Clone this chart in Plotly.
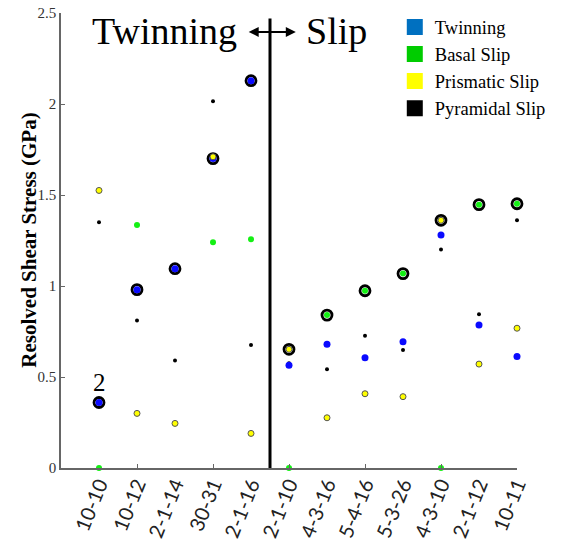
import plotly.graph_objects as go

categories = ["10-10", "10-12", "2-1-14", "30-31", "2-1-16", "2-1-10",
              "4-3-16", "5-4-16", "5-3-26", "4-3-10", "2-1-12", "10-11"]
positions = list(range(1, len(categories) + 1))

twinning = [0.36, 0.98, 1.095, 1.70, 2.128, 0.565, 0.68, 0.606, 0.694, 1.28, 0.786, 0.612]
basal = [0.0, 1.335, None, 1.24, 1.257, 0.0, 0.84, 0.974, 1.068, 0.0, 1.447, 1.452]
prismatic = [1.525, 0.30, 0.245, 1.71, 0.19, 0.652, 0.276, 0.408, 0.392, 1.361, 0.571, 0.768]
pyramidal = [1.35, 0.81, 0.59, 2.015, 0.676, 0.575, 0.542, 0.727, 0.648, 1.20, 0.845, 1.361]

# which deformation mode is circled for each orientation
ringed = ["Twinning", "Twinning", "Twinning", "Twinning", "Twinning", "Prismatic Slip",
          "Basal Slip", "Basal Slip", "Basal Slip", "Prismatic Slip", "Basal Slip", "Basal Slip"]

series = {
    "Twinning": twinning,
    "Basal Slip": basal,
    "Prismatic Slip": prismatic,
    "Pyramidal Slip": pyramidal,
}
legend_colors = {
    "Twinning": "#0070C0",
    "Basal Slip": "#00CC00",
    "Prismatic Slip": "#FFFF00",
    "Pyramidal Slip": "#000000",
}

y_ticks = [0, 0.5, 1, 1.5, 2, 2.5]
minor_x_ticks = [2, 4, 6, 8, 10, 12]

SERIF = "Liberation Serif, Times New Roman, serif"
SANS = "Lato, Liberation Sans, Arial, sans-serif"

ring_y = [series[m][i] for i, m in enumerate(ringed)]

fig = go.Figure()

# rings (under the dots)
fig.add_trace(go.Scatter(
    x=positions, y=ring_y, mode="markers", showlegend=False, cliponaxis=False,
    marker=dict(symbol="circle", size=10, color="white", line=dict(color="black", width=2.8)),
    hoverinfo="skip"))

fig.add_trace(go.Scatter(
    x=positions, y=pyramidal, mode="markers", showlegend=False, cliponaxis=False,
    marker=dict(size=4, color="black"), name="Pyramidal Slip"))
fig.add_trace(go.Scatter(
    x=positions, y=basal, mode="markers", showlegend=False, cliponaxis=False,
    marker=dict(size=6, color="#14F014"), name="Basal Slip"))
fig.add_trace(go.Scatter(
    x=positions, y=twinning, mode="markers", showlegend=False, cliponaxis=False,
    marker=dict(size=7, color="#0A0AFF"), name="Twinning"))
fig.add_trace(go.Scatter(
    x=positions, y=prismatic, mode="markers", showlegend=False, cliponaxis=False,
    marker=dict(size=6, color="#FFFF00", line=dict(color="#555555", width=1)), name="Prismatic Slip"))

# legend-only entries
for name, col in legend_colors.items():
    fig.add_trace(go.Scatter(
        x=[None], y=[None], mode="markers", name=name, showlegend=True,
        marker=dict(symbol="square", size=16, color=col)))

# invisible trace on the overlay axis carrying the category labels
fig.add_trace(go.Scatter(x=[None], y=[None], xaxis="x2", yaxis="y", showlegend=False))

# divider and arrow
fig.add_shape(type="line", x0=5.5, x1=5.5, y0=0, y1=2.47, xref="x", yref="y",
              line=dict(color="black", width=3))
fig.add_annotation(x=6.18, y=2.396, ax=4.90, ay=2.396, xref="x", yref="y",
                   axref="x", ayref="y", text="", showarrow=True,
                   arrowhead=2, arrowside="end+start", arrowwidth=2, arrowsize=1,
                   arrowcolor="black")
fig.add_annotation(x=2.72, y=2.40, xref="x", yref="y", text="Twinning", showarrow=False,
                   font=dict(family=SERIF, size=38, color="black"))
fig.add_annotation(x=7.24, y=2.40, xref="x", yref="y", text="Slip", showarrow=False,
                   font=dict(family=SERIF, size=38, color="black"))
fig.add_annotation(x=1, y=0.47, xref="x", yref="y", text="2", showarrow=False,
                   font=dict(family=SERIF, size=25, color="black"))

# y-axis title
fig.add_annotation(x=-0.072, y=0.5, xref="paper", yref="paper", xanchor="center", yanchor="middle",
                   text="<b>Resolved Shear Stress (GPa)</b>", textangle=-90, showarrow=False,
                   font=dict(family=SERIF, size=21, color="black"))

fig.update_layout(
    width=561, height=550,
    margin=dict(l=61, r=44, t=13, b=82, autoexpand=False),
    paper_bgcolor="white", plot_bgcolor="white",
    showlegend=True,
    legend=dict(x=0.732, y=1.01, xanchor="left", yanchor="top",
                font=dict(family=SERIF, size=18.5, color="black"),
                bgcolor="rgba(0,0,0,0)", tracegroupgap=0, itemwidth=30),
    xaxis=dict(range=[0, 12], tickvals=minor_x_ticks, showticklabels=False,
               ticks="inside", ticklen=4, tickcolor="#666666",
               showline=True, linecolor="#666666", linewidth=1.5,
               showgrid=False, zeroline=False, automargin=False),
    xaxis2=dict(range=[0, 12], overlaying="x", anchor="y", side="bottom",
                tickvals=positions, ticktext=categories, tickangle=-68,
                ticks="", showline=False, showgrid=False, zeroline=False, automargin=False,
                tickfont=dict(family=SANS, size=20, color="#222222")),
    yaxis=dict(range=[0, 2.5], tickvals=y_ticks, ticks="inside", ticklen=4,
               tickcolor="#666666", showline=True, linecolor="#666666", linewidth=1.5,
               showgrid=False, zeroline=False, automargin=False,
               tickfont=dict(family=SERIF, size=15, color="#333333")),
)

fig.write_html("out.html")
